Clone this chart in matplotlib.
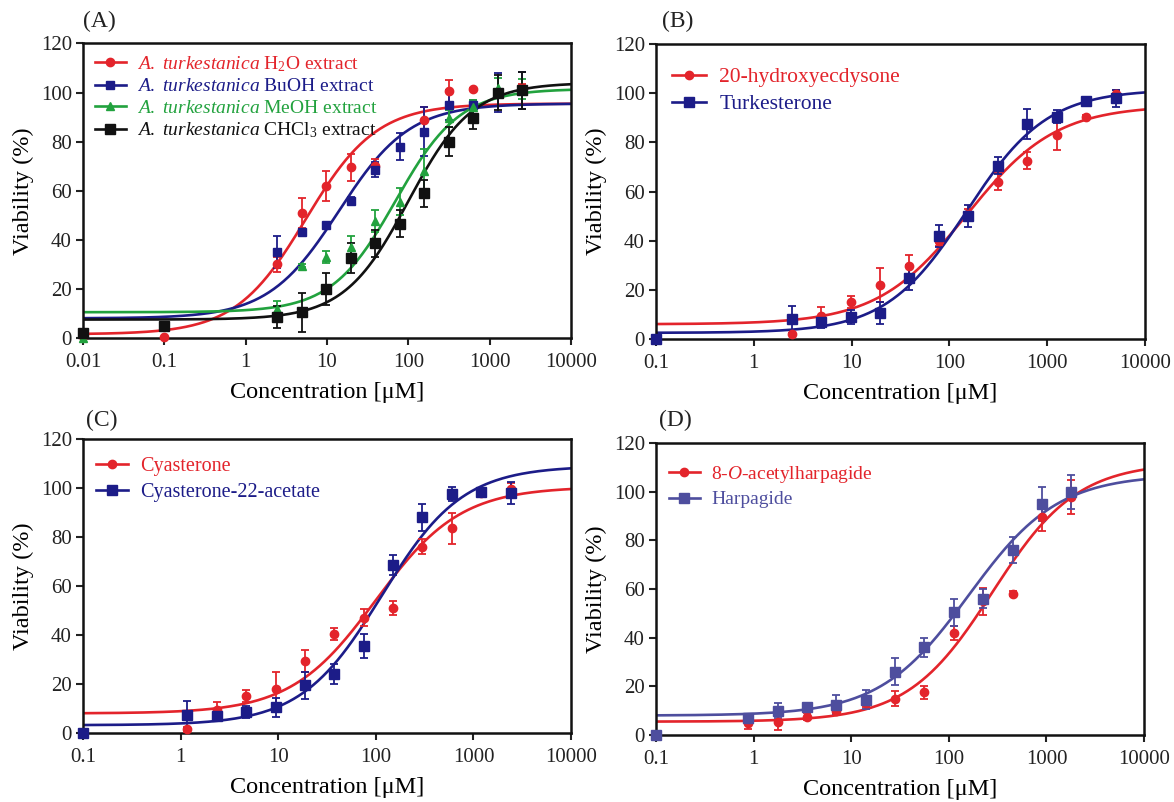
import numpy as np
import matplotlib
matplotlib.use("Agg")
import matplotlib.pyplot as plt
from matplotlib.lines import Line2D

plt.rcParams['font.family'] = ['Liberation Serif', 'DejaVu Serif']
plt.rcParams['mathtext.fontset'] = 'custom'
plt.rcParams['mathtext.rm'] = 'Liberation Serif'
plt.rcParams['mathtext.it'] = 'Liberation Serif:italic'
plt.rcParams['text.color'] = '#222222'

RED = '#e3242b'
NAVY = '#1c1c88'
GREEN = '#22a23e'
BLACK = '#111111'
SLATE = '#4e4e9e'

nan = np.nan

# ---- panel A: A. turkestanica extracts
xA = [0.01, 0.1, 2.44, 4.88, 9.77, 19.5, 39, 78, 156, 312, 625, 1250, 2500]
h2o = [1, 0.5, 30, 51, 62, 69.5, 70, nan, 89, 100.5, 101.5, nan, 102]
h2o_err = [0, 0, 3, 6, 6, 5.5, 3, nan, 5, 4.5, 0.5, nan, 1.5]
buoh = [nan, nan, 35, 43, 46, 56, 68.5, 78, 84, 95, 95, 100, 101]
buoh_err = [nan, nan, 6.5, 1, 1, 1.5, 3, 5.5, 10, 6, 2, 8, 7.5]
meoh = [0, nan, 12, 29.5, 33, 37, 47.5, 55.5, 68, 89.5, 94, 102, 101.5]
meoh_err = [0, nan, 3, 0.5, 2.5, 4.5, 4.5, 5.5, 9, 3.5, 3, 4, 4]
chcl3 = [2, 5, 8.5, 10.5, 20, 32.5, 38.5, 46.5, 59, 80, 89.5, 100, 101]
chcl3_err = [1, 1.5, 4.5, 8, 6.5, 6, 5.5, 5.5, 5.5, 6, 4.5, 7, 7.5]

# ---- panel B
xB = [0.1, 2.44, 4.88, 9.77, 19.5, 39, 78, 156, 312, 625, 1250, 2500, 5000]
hydroxy = [0, 2, 9.5, 15, 22, 29.5, 40, 51, 64, 72.5, 83, 90.5, 99.5]
hydroxy_err = [0, 0.5, 3.5, 2.5, 7, 4.5, 2, 2, 3.5, 3.5, 6, 0.5, 2]
turk = [0, 8, 7, 9, 10.5, 25, 42, 50, 70.5, 87.5, 90.5, 97, 98]
turk_err = [0, 5.5, 2.5, 3, 4.5, 5, 4.5, 4.5, 3.5, 6, 2.5, 0.5, 3.5]

# ---- panel C
xC = [0.1, 1.17, 2.34, 4.69, 9.38, 18.75, 37.5, 75, 150, 300, 600, 1200, 2400]
cya = [0, 1.5, 9.5, 15, 18, 29.5, 40.5, 47, 51, 76, 83.5, 98, 99.5]
cya_err = [0, 1, 3, 2.5, 7, 4.5, 2.5, 3.5, 3, 3, 6.5, 1, 2.5]
cya22 = [0, 7.5, 7, 8.5, 10.5, 19.5, 24, 35.5, 68.5, 88, 97.5, 98.5, 98]
cya22_err = [0, 5.5, 1.5, 2.5, 4, 5.5, 4, 5, 4, 5.5, 3, 1, 4.5]

# ---- panel D
xD = [0.1, 0.88, 1.76, 3.52, 7.03, 14.1, 28.1, 56.3, 113, 225, 450, 900, 1800]
acetyl = [0, 5, 5.5, 7.5, 10, 13, 15, 17.5, 42, 55, 58, 89.5, 98]
acetyl_err = [0, 2.5, 3.5, 1.5, 1.5, 1.5, 3, 2.5, 3, 5.5, 1, 5.5, 7]
harp = [0, 7, 10, 11.5, 12.5, 14.5, 26, 36, 50.5, 56, 76, 95, 100]
harp_err = [0, 1, 3, 1, 4, 4, 5.5, 4, 5.5, 4, 5.5, 7, 7]

# fitted 4PL parameters (bottom, top, EC50, hill)
fitA = [(1.5, 95.5, 5.5, 1.0), (8, 95.5, 14, 1.0), (10.5, 101.5, 70, 1.1), (7.5, 104, 100, 1.1)]
fitB = [(6, 95, 150, 0.95), (2.5, 101.5, 150, 1.05)]
fitC = [(8, 100.5, 100, 1.0), (3.2, 109, 115, 1.05)]
fitD = [(5.5, 112, 280, 1.0), (8, 107, 160, 0.95)]


def logistic(x, p):
    b, t, ec, h = p
    return b + (t - b) / (1 + (ec / x) ** h)


def panel(rect, letter, letter_pos, xmin, xs, ys, errs, fits, colors, markers, msizes,
          labels, legfs, legpos, legsp):
    ax = fig.add_axes(rect)
    xx = np.logspace(np.log10(xmin), 4, 300)
    handles = []
    for y, e, p, c, m, ms in zip(ys, errs, fits, colors, markers, msizes):
        ax.plot(xx, logistic(xx, p), color=c, lw=1.9, zorder=2)
        ax.errorbar(xs, y, yerr=e, fmt=m, color=c, ms=ms, elinewidth=1.3,
                    capsize=3, capthick=1.3, clip_on=False, zorder=3)
        handles.append(Line2D([], [], color=c, lw=1.9, marker=m, ms=ms))
    ax.set_xscale('log')
    ax.set_xlim(xmin, 10000)
    ax.set_ylim(0, 120)
    ax.set_yticks(range(0, 121, 20))
    ticks = [t for t in [0.01, 0.1, 1, 10, 100, 1000, 10000] if t >= xmin]
    ax.set_xticks(ticks)
    ax.set_xticklabels([('%g' % t) for t in ticks])
    ax.minorticks_off()
    ax.tick_params(axis='both', labelsize=15, length=5, width=1.5, direction='out',
                   colors='#222222', pad=3)
    ax.tick_params(axis='x', pad=6)
    for s in ax.spines.values():
        s.set_linewidth(1.8)
        s.set_color('#111111')
    ax.set_xlabel('Concentration [μM]', fontsize=17.5, labelpad=7)
    ax.set_ylabel('Viability (%)', fontsize=17.5, labelpad=5)
    leg = ax.legend(handles, labels, loc='upper left', bbox_to_anchor=legpos,
                    frameon=False, fontsize=legfs, handlelength=1.6,
                    handletextpad=0.6, labelspacing=legsp, borderaxespad=0)
    for t, c in zip(leg.get_texts(), colors):
        t.set_color(c)
    fig.text(letter_pos[0], letter_pos[1], letter, fontsize=17, ha='center', va='center')
    return ax


fig = plt.figure(figsize=(11.74, 8.02), dpi=100)

panel([0.0707, 0.5786, 0.4157, 0.3672], '(A)', (0.0846, 0.973), 0.01, xA,
      [h2o, buoh, meoh, chcl3], [h2o_err, buoh_err, meoh_err, chcl3_err], fitA,
      [RED, NAVY, GREEN, BLACK], ['o', 's', '^', 's'], [6, 6, 6, 7.5],
      [r'$\it{A.\ turkestanica}$ H$_2$O extract',
       r'$\it{A.\ turkestanica}$ BuOH extract',
       r'$\it{A.\ turkestanica}$ MeOH extract',
       r'$\it{A.\ turkestanica}$ CHCl$_3$ extract'], 14, (0.008, 0.99), 0.2)

panel([0.5588, 0.5773, 0.4165, 0.3678], '(B)', (0.5775, 0.973), 0.1, xB,
      [hydroxy, turk], [hydroxy_err, turk_err], fitB,
      [RED, NAVY], ['o', 's'], [6, 6.5],
      ['20-hydroxyecdysone', 'Turkesterone'], 15.5, (0.015, 0.95), 0.32)

panel([0.0707, 0.0860, 0.4157, 0.3666], '(C)', (0.0866, 0.476), 0.1, xC,
      [cya, cya22], [cya_err, cya22_err], fitC,
      [RED, NAVY], ['o', 's'], [6, 6.5],
      ['Cyasterone', 'Cyasterone-22-acetate'], 14.5, (0.01, 0.965), 0.3)

panel([0.5588, 0.0835, 0.4157, 0.3641], '(D)', (0.575, 0.476), 0.1, xD,
      [acetyl, harp], [acetyl_err, harp_err], fitD,
      [RED, SLATE], ['o', 's'], [6, 6.5],
      [r'8-$\it{O}$-acetylharpagide', 'Harpagide'], 14, (0.01, 0.955), 0.3)

fig.savefig('out.png', dpi=100)
